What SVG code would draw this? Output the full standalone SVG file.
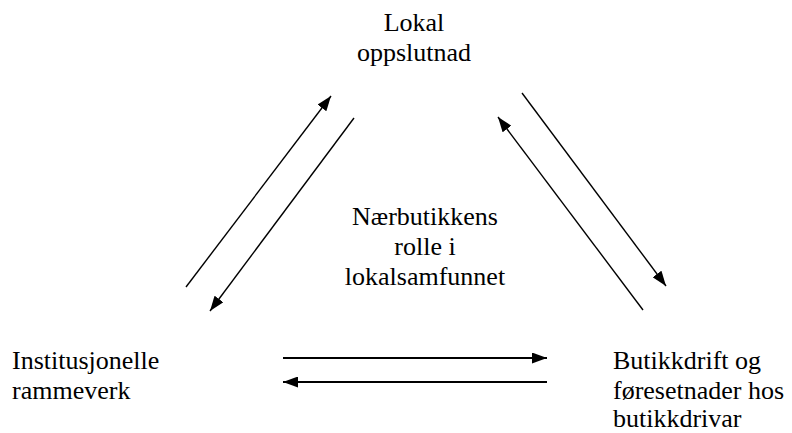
<svg xmlns="http://www.w3.org/2000/svg" width="792" height="433" viewBox="0 0 792 433">
<defs>
<marker id="ah" markerUnits="userSpaceOnUse" markerWidth="15" markerHeight="11" refX="15" refY="5.5" orient="auto">
<path d="M0,0 L15,5.5 L0,11 z" fill="#000"/>
</marker>
<style>
.t{font-family:"Liberation Serif",serif;font-size:26px;fill:#000}
.c{text-anchor:middle}
.d{stroke:#000;stroke-width:1.4;fill:none;marker-end:url(#ah)}
.h{stroke:#000;stroke-width:1.9;fill:none;marker-end:url(#ah)}
</style>
</defs>
<rect width="792" height="433" fill="#fff"/>
<g id="lokal" class="t">
<text class="c" x="414" y="31">Lokal</text>
<text class="c" x="414" y="61">oppslutnad</text>
</g>
<g id="center" class="t">
<text class="c" x="425" y="225">Nærbutikkens</text>
<text class="c" x="425" y="255">rolle i</text>
<text class="c" x="425" y="285">lokalsamfunnet</text>
</g>
<g id="inst" class="t">
<text x="12" y="369">Institusjonelle</text>
<text x="12" y="399">rammeverk</text>
</g>
<g id="butikk" class="t">
<text x="613" y="369">Butikkdrift og</text>
<text x="613" y="399">føresetnader hos</text>
<text x="613" y="427">butikkdrivar</text>
</g>
<g id="connectors">
<path class="d" d="M186,287 L331,96"/>
<path class="d" d="M354,118 L210,311"/>
<path class="d" d="M522,93 L666,286"/>
<path class="d" d="M643,310 L498,117"/>
<path class="h" d="M283,358 L547,358"/>
<path class="h" d="M547,382 L283,382"/>
</g>
</svg>
